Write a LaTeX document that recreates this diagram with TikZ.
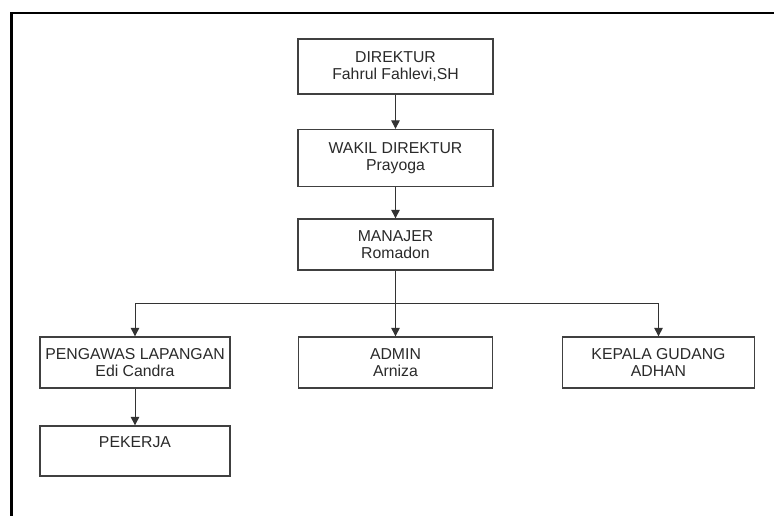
\documentclass[tikz,border=0pt]{standalone}
\usepackage{fontspec}
\setmainfont{Liberation Sans}
\usetikzlibrary{arrows.meta}
\definecolor{boxline}{HTML}{404040}
\definecolor{linkline}{HTML}{333333}
\definecolor{labeltext}{HTML}{2A2A2A}
\begin{document}
\begin{tikzpicture}[x=1pt,y=-1pt,
  post/.style={draw=boxline, line width=1.3pt, fill=white, inner sep=0pt,
    rectangle, align=center, text=labeltext,
    font=\fontsize{15.8}{17}\selectfont},
  link/.style={draw=linkline, line width=1pt},
  arrowlink/.style={link, -{Triangle[length=8.5pt,width=8.5pt]}}]
% canvas and outer frame
\useasboundingbox (0,0) rectangle (774,516);
\fill[white] (0,0) rectangle (774,516);
\draw[line width=2.2pt] (11.5,516) -- (11.5,13) -- (774,13);

% positions
\node[post, minimum width=195pt, minimum height=55pt] (dir) at (395.5,66.5)
  {DIREKTUR\\Fahrul Fahlevi,SH};
\node[post, minimum width=195pt, minimum height=57pt] (wakil) at (395.5,158)
  {WAKIL DIREKTUR\\Prayoga};
\node[post, minimum width=195pt, minimum height=51pt] (man) at (395.5,244.5)
  {MANAJER\\Romadon};
\node[post, minimum width=190pt, minimum height=51pt] (peng) at (135,362.5)
  {PENGAWAS LAPANGAN\\Edi Candra};
\node[post, minimum width=194pt, minimum height=51pt] (admin) at (395.5,362.5)
  {ADMIN\\Arniza};
\node[post, minimum width=192pt, minimum height=51pt] (kepala) at (658.5,362.5)
  {KEPALA GUDANG\\ADHAN};
\node[post, minimum width=190pt, minimum height=50pt] (pekerja) at (135,451)
  {PEKERJA\\~};

% connectors
\coordinate (bus) at (395.5,303);
\draw[arrowlink] (dir) -- (wakil);
\draw[arrowlink] (wakil) -- (man);
\draw[arrowlink] (man) -- (admin);
\draw[arrowlink] (bus) -| (peng.north);
\draw[arrowlink] (bus) -| (kepala.north);
\draw[arrowlink] (peng) -- (pekerja);
\end{tikzpicture}
\end{document}
